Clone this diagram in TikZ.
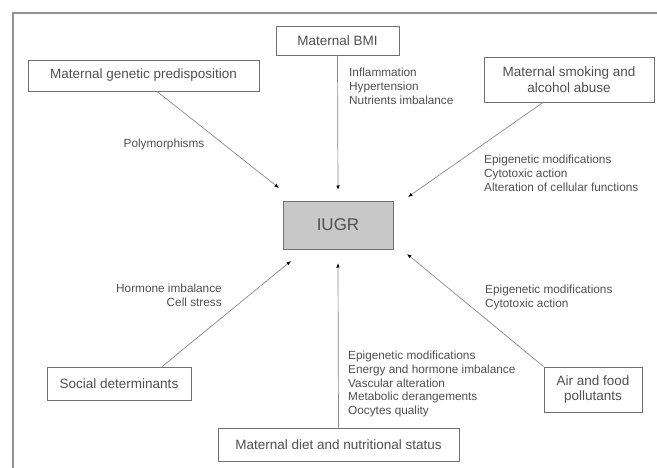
\documentclass[tikz,border=0pt]{standalone}
\usepackage{fontspec}
\setmainfont{Liberation Sans}
\usetikzlibrary{arrows.meta,calc}
\definecolor{txt}{HTML}{505050}
\definecolor{boxline}{HTML}{707070}
\definecolor{arr}{HTML}{8A8A8A}
\definecolor{iugrfill}{HTML}{C8C8C8}
\begin{document}
\begin{tikzpicture}[x=1pt,y=-1pt,
  factor/.style={draw=boxline,line width=0.8pt,fill=white,text=txt,
    font=\fontsize{13.5}{15.5}\selectfont,align=center,inner sep=0pt},
  centre/.style={draw=boxline,line width=0.8pt,fill=iugrfill,text=txt,
    font=\fontsize{17}{19}\selectfont,inner sep=0pt},
  lbl/.style={text=txt,font=\fontsize{11.8}{13.8}\selectfont,inner sep=0pt},
  link/.style={draw=arr,line width=0.7pt,
    -{Latex[length=4.5pt,width=3.5pt,fill=black,color=black]}}]
\useasboundingbox (0,0) rectangle (657,468);
\fill[white] (0,0) rectangle (657,468);
% outer frame (only top and left visible)
\draw[draw=gray!85,line width=1.5pt] (13,480) -- (13,13) -- (670,13);

% boxes
\node[factor,minimum width=231pt,minimum height=31pt] (gen) at (143.5,75.5) {Maternal genetic predisposition};
\node[factor,minimum width=123pt,minimum height=29pt] (bmi) at (337.5,40.5) {Maternal BMI};
\node[factor,minimum width=170pt,minimum height=45pt] (smk) at (569,79.5) {Maternal smoking and\\alcohol abuse};
\node[centre,minimum width=110pt,minimum height=48pt] (iugr) at (338,225) {IUGR};
\node[factor,minimum width=144pt,minimum height=33pt] (soc) at (119,383.5) {Social determinants};
\node[factor,minimum width=98pt,minimum height=45pt] (air) at (593,389.5) {Air and food\\pollutants};
\node[factor,minimum width=241pt,minimum height=33pt] (diet) at (338.5,444.5) {Maternal diet and nutritional status};

% arrow tips near IUGR
\coordinate (t1) at (279,188);
\coordinate (t2) at (338,190);
\coordinate (t3) at (408,197);
\coordinate (t4) at (291,261);
\coordinate (t5) at (338,263);
\coordinate (t6) at (407,254);

% connectors
\draw[link] ([xshift=13.5pt]gen.south) -- (t1);
\draw[link] (bmi.south) -- (t2);
\draw[link] ([xshift=-26pt]smk.south) -- (t3);
\draw[link] ([xshift=43pt]soc.north) -- (t4);
\draw[link] (diet.north) -- (t5);
\draw[link] (air.north west) -- (t6);

% labels
\node[lbl] (lgen) at (164,144) {Polymorphisms};
\node[lbl,align=left,anchor=west] (lbmi) at (349,86) {Inflammation\\Hypertension\\Nutrients imbalance};
\node[lbl,align=left,anchor=west] (lsmk) at (484,173) {Epigenetic modifications\\Cytotoxic action\\Alteration of cellular functions};
\node[lbl,align=right,anchor=east] (lsoc) at (222,295) {Hormone imbalance\\Cell stress};
\node[lbl,align=left,anchor=west] (lair) at (485,297.5) {Epigenetic modifications\\Cytotoxic action};
\node[lbl,align=left,anchor=west] (ldiet) at (348,384) {Epigenetic modifications\\Energy and hormone imbalance\\Vascular alteration\\Metabolic derangements\\Oocytes quality};
\end{tikzpicture}
\end{document}
